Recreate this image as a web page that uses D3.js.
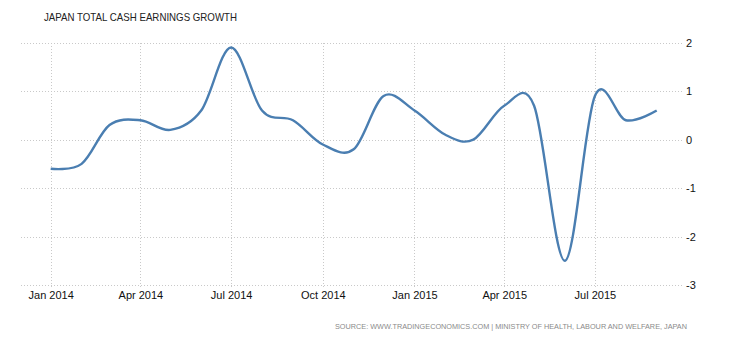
<!DOCTYPE html>
<html>
<head>
<meta charset="utf-8">
<script src="https://cdn.jsdelivr.net/npm/d3@7"></script>
<style>
  html, body { margin: 0; padding: 0; background: #fff; }
  svg { display: block; }
</style>
</head>
<body>
<svg id="chart" width="730" height="340"></svg>
<script>
// ---- Data ----
const months = ["2014-01","2014-02","2014-03","2014-04","2014-05","2014-06","2014-07","2014-08","2014-09","2014-10","2014-11","2014-12",
                "2015-01","2015-02","2015-03","2015-04","2015-05","2015-06","2015-07","2015-08","2015-09"];
const values = [-0.6,-0.5,0.3,0.4,0.2,0.6,1.9,0.6,0.4,-0.1,-0.2,0.9,
                0.6,0.1,0.0,0.7,0.7,-2.5,0.9,0.4,0.6];
const xTickDates = ["2014-01","2014-04","2014-07","2014-10","2015-01","2015-04","2015-07"];
const yTicks = [2,1,0,-1,-2,-3];
const titleText = "JAPAN TOTAL CASH EARNINGS GROWTH";
const sourceText = "SOURCE: WWW.TRADINGECONOMICS.COM | MINISTRY OF HEALTH, LABOUR AND WELFARE, JAPAN";

const parse = d3.timeParse("%Y-%m");
const data = months.map((m, i) => ({date: parse(m), value: values[i]}));

const svg = d3.select("#chart");

const x = d3.scaleTime()
  .domain([parse("2014-01"), parse("2015-09")])
  .range([50.7, 656.7]);
const y = d3.scaleLinear()
  .domain([-3, 2])
  .range([285, 42.7]);

const gridColor = "#c9c9c9";

// horizontal gridlines
svg.append("g").selectAll("line").data(yTicks).join("line")
  .attr("x1", 21).attr("x2", 683)
  .attr("y1", d => Math.round(y(d)) + 0.5).attr("y2", d => Math.round(y(d)) + 0.5)
  .attr("stroke", gridColor).attr("stroke-width", 1).attr("stroke-dasharray", "1,2");

// vertical gridlines
svg.append("g").selectAll("line").data(xTickDates.map(parse)).join("line")
  .attr("x1", d => Math.round(x(d)) + 0.5).attr("x2", d => Math.round(x(d)) + 0.5)
  .attr("y1", 43).attr("y2", 288)
  .attr("stroke", gridColor).attr("stroke-width", 1).attr("stroke-dasharray", "1,2");

// x axis labels
const xAxis = d3.axisBottom(x)
  .tickValues(xTickDates.map(parse))
  .tickFormat(d3.timeFormat("%b %Y"))
  .tickSize(0).tickPadding(0);
const gx = svg.append("g").attr("transform", "translate(0,291)").call(xAxis);
gx.select(".domain").remove();
gx.selectAll("text")
  .attr("dy", "0.71em")
  .attr("font-family", "'Liberation Sans', Arial, sans-serif")
  .attr("font-size", 11)
  .attr("fill", "#111");

// y axis labels (right)
const yAxis = d3.axisRight(y).tickValues(yTicks).tickSize(0).tickPadding(0).tickFormat(d3.format("d"));
const gy = svg.append("g").attr("transform", "translate(686,0)").call(yAxis);
gy.select(".domain").remove();
gy.selectAll("text")
  .attr("font-family", "'Liberation Sans', Arial, sans-serif")
  .attr("font-size", 11)
  .attr("fill", "#111")
  .text(d => d < 0 ? "-" + Math.abs(d) : String(d));

// line
const line = d3.line()
  .x(d => x(d.date))
  .y(d => y(d.value))
  .curve(d3.curveCardinal.tension(0));
svg.append("path")
  .datum(data)
  .attr("d", line)
  .attr("fill", "none")
  .attr("stroke", "#4a7eb1")
  .attr("stroke-width", 2.4)
  .attr("stroke-linejoin", "round");

// title
svg.append("text")
  .attr("x", 44).attr("y", 21)
  .attr("font-family", "'Liberation Sans', Arial, sans-serif")
  .attr("font-size", 10.5)
  .attr("fill", "#222")
  .attr("textLength", 193).attr("lengthAdjust", "spacingAndGlyphs")
  .text(titleText);

// source
svg.append("text")
  .attr("x", 687).attr("y", 329)
  .attr("text-anchor", "end")
  .attr("font-family", "'Liberation Sans', Arial, sans-serif")
  .attr("font-size", 7.8)
  .attr("fill", "#8a8a8a")
  .attr("textLength", 352).attr("lengthAdjust", "spacingAndGlyphs")
  .text(sourceText);
</script>
</body>
</html>
